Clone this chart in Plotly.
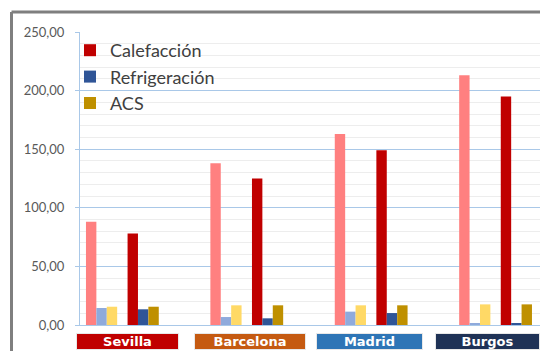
import plotly.graph_objects as go

# Cities and energy demand (kWh/m² año) per use
cities = ["Sevilla", "Barcelona", "Madrid", "Burgos"]
uses = ["Calefacción", "Refrigeración", "ACS"]

# Reference building (light bars)
calefaccion_ref = [88, 138, 163, 213]
refrigeracion_ref = [14.5, 6.8, 11.4, 1.5]
acs_ref = [15.6, 16.8, 16.8, 17.6]

# Studied building (dark bars, shown in legend)
calefaccion = [78, 125, 149, 195]
refrigeracion = [13.4, 5.7, 10.2, 1.5]
acs = [15.6, 16.8, 16.8, 17.6]

y_ticks = [0, 50, 100, 150, 200, 250]

light_colors = ["#FF8080", "#8FAADC", "#FFD966"]
dark_colors = ["#C00000", "#2F5597", "#BF9000"]
city_colors = ["#C00000", "#C55A11", "#2E75B6", "#1F3256"]

W, H = 540, 351
L, R, T, B = 80, 0, 32, 26
plot_w = W - L - R
plot_h = H - T - B
cat_px = 124.4  # pixels per category
x_max = -0.5 + plot_w / cat_px

bar_w = 10.4 / cat_px
first_off = -0.452

fig = go.Figure()

ref_series = [calefaccion_ref, refrigeracion_ref, acs_ref]
obj_series = [calefaccion, refrigeracion, acs]

for k, (vals, col, name) in enumerate(zip(ref_series, light_colors, uses)):
    fig.add_trace(go.Bar(
        x=cities, y=vals, name=name + " (referencia)", marker_color=col,
        marker_line_width=0, width=bar_w, offset=first_off + k * bar_w,
        showlegend=False,
    ))

for k, (vals, col, name) in enumerate(zip(obj_series, dark_colors, uses)):
    fig.add_trace(go.Bar(
        x=cities, y=vals, name=name, marker_color=col,
        marker_line_width=0, width=bar_w, offset=first_off + (k + 4) * bar_w,
    ))

grid_blue = "#A9C8E8"

fig.update_layout(
    width=W, height=H,
    margin=dict(l=L, r=R, t=T, b=B, pad=0),
    paper_bgcolor="white", plot_bgcolor="white",
    barmode="overlay",
    separators=",.",
    font=dict(family="Lato", color="#595959"),
    legend=dict(
        x=(70 - L) / plot_w, y=(H - B - 32) / plot_h,
        xanchor="left", yanchor="top",
        bgcolor="rgba(0,0,0,0)",
        font=dict(family="Lato", size=18, color="#404040"),
        tracegroupgap=0, itemwidth=30,
    ),
    xaxis=dict(
        type="category", range=[-0.5, x_max],
        showticklabels=False, showgrid=False, ticks="",
        showline=True, linecolor=grid_blue, linewidth=1,
        zeroline=False,
    ),
    yaxis=dict(
        range=[0, 250], tickvals=y_ticks, tickformat=".2f",
        showgrid=True, gridcolor=grid_blue, gridwidth=1,
        minor=dict(dtick=10, showgrid=True, gridcolor="#EDEDED", gridwidth=1),
        ticks="outside", ticklen=4, tickcolor=grid_blue,
        showline=True, linecolor=grid_blue, linewidth=1,
        tickfont=dict(family="Lato", size=13, color="#595959"),
        ticklabelstandoff=8, zeroline=False,
    ),
)

# City name plates under each group
plate_shift = [-14.5, -17.1, -21.6, -27.9]
plate_width = [103, 112, 107, 105]
for city, col, dx, w in zip(cities, city_colors, plate_shift, plate_width):
    fig.add_annotation(
        x=city, xref="x", y=(H - B - 341.7) / plot_h, yref="paper",
        xanchor="center", yanchor="middle",
        xshift=dx, text="<b>" + city + "</b>", showarrow=False,
        width=w - 2, height=15, bgcolor=col, bordercolor="#E8E8E8",
        borderwidth=1, borderpad=0, align="center", valign="middle",
        font=dict(family="DejaVu Sans", size=13, color="white"),
    )

# Outer chart frame: top and left edges
frame_x = (11.5 - L) / plot_w
frame_y = (H - B - 12) / plot_h
frame_line = dict(color="#7F7F7F", width=3)
fig.add_shape(type="line", xref="paper", yref="paper",
              x0=frame_x, x1=1.0, y0=frame_y, y1=frame_y, line=frame_line)
fig.add_shape(type="line", xref="paper", yref="paper",
              x0=frame_x, x1=frame_x, y0=frame_y, y1=-B / plot_h,
              line=frame_line)

fig.write_html("out.html")
